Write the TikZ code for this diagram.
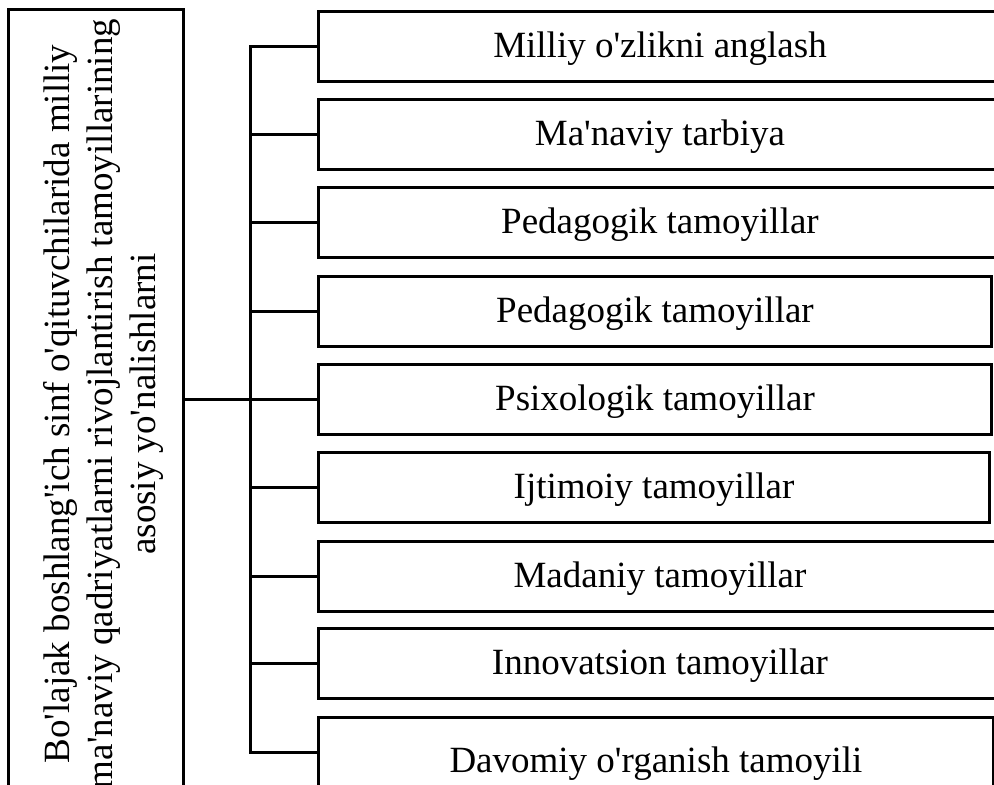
\documentclass[tikz,border=0pt]{standalone}
\usepackage{fontspec}
\setmainfont{Liberation Serif}
\newcommand{\apos}{\textquotesingle}
\begin{document}
\begin{tikzpicture}[x=1pt, y=-1pt, line width=3pt,
  box/.style={draw, anchor=west, inner sep=0pt, minimum height=70pt, text height=29pt, text depth=7pt, font=\fontsize{37}{39}\selectfont},
  main/.style={draw, rotate=90, inner sep=0pt, minimum width=790pt, minimum height=175pt, text height=128pt, text depth=8pt, align=center, font=\fontsize{37}{43}\selectfont}]
\useasboundingbox (0,0) rectangle (994,785);
\clip (0,0) rectangle (994,785);
 \node[main] (0) at (95.5,404) {Bo\apos lajak boshlang\apos ich sinf o\apos qituvchilarida milliy\\ma\apos naviy qadriyatlarni rivojlantirish tamoyillarining\\asosiy yo\apos nalishlarni};
  \node[box, minimum width=683pt] (1) at (317,46) {Milliy o\apos zlikni anglash};
  \node[box, minimum width=683pt] (2) at (317,134.5) {Ma\apos naviy tarbiya};
  \node[box, minimum width=683pt] (3) at (317,222.5) {Pedagogik tamoyillar};
  \node[box, minimum width=673pt] (4) at (317,311) {Pedagogik tamoyillar};
  \node[box, minimum width=673pt] (5) at (317,399) {Psixologik tamoyillar};
  \node[box, minimum width=671pt] (6) at (317,487.5) {Ijtimoiy tamoyillar};
  \node[box, minimum width=683pt] (7) at (317,576) {Madaniy tamoyillar};
  \node[box, minimum width=683pt] (8) at (317,663.5) {Innovatsion tamoyillar};
  \node[box, minimum width=675pt, text height=47pt] (9) at (317,752) {Davomiy o\apos rganish tamoyili};
 \coordinate (bus) at (250,0);
\draw (5.west -| 0.south) -- (5.west);
\draw (1.west) -- (1.west -| bus) -- (9.west -| bus) -- (9.west);
\draw (2.west) -- (2.west -| bus);
\draw (3.west) -- (3.west -| bus);
\draw (4.west) -- (4.west -| bus);
\draw (6.west) -- (6.west -| bus);
\draw (7.west) -- (7.west -| bus);
\draw (8.west) -- (8.west -| bus);
 \end{tikzpicture}
\end{document}
